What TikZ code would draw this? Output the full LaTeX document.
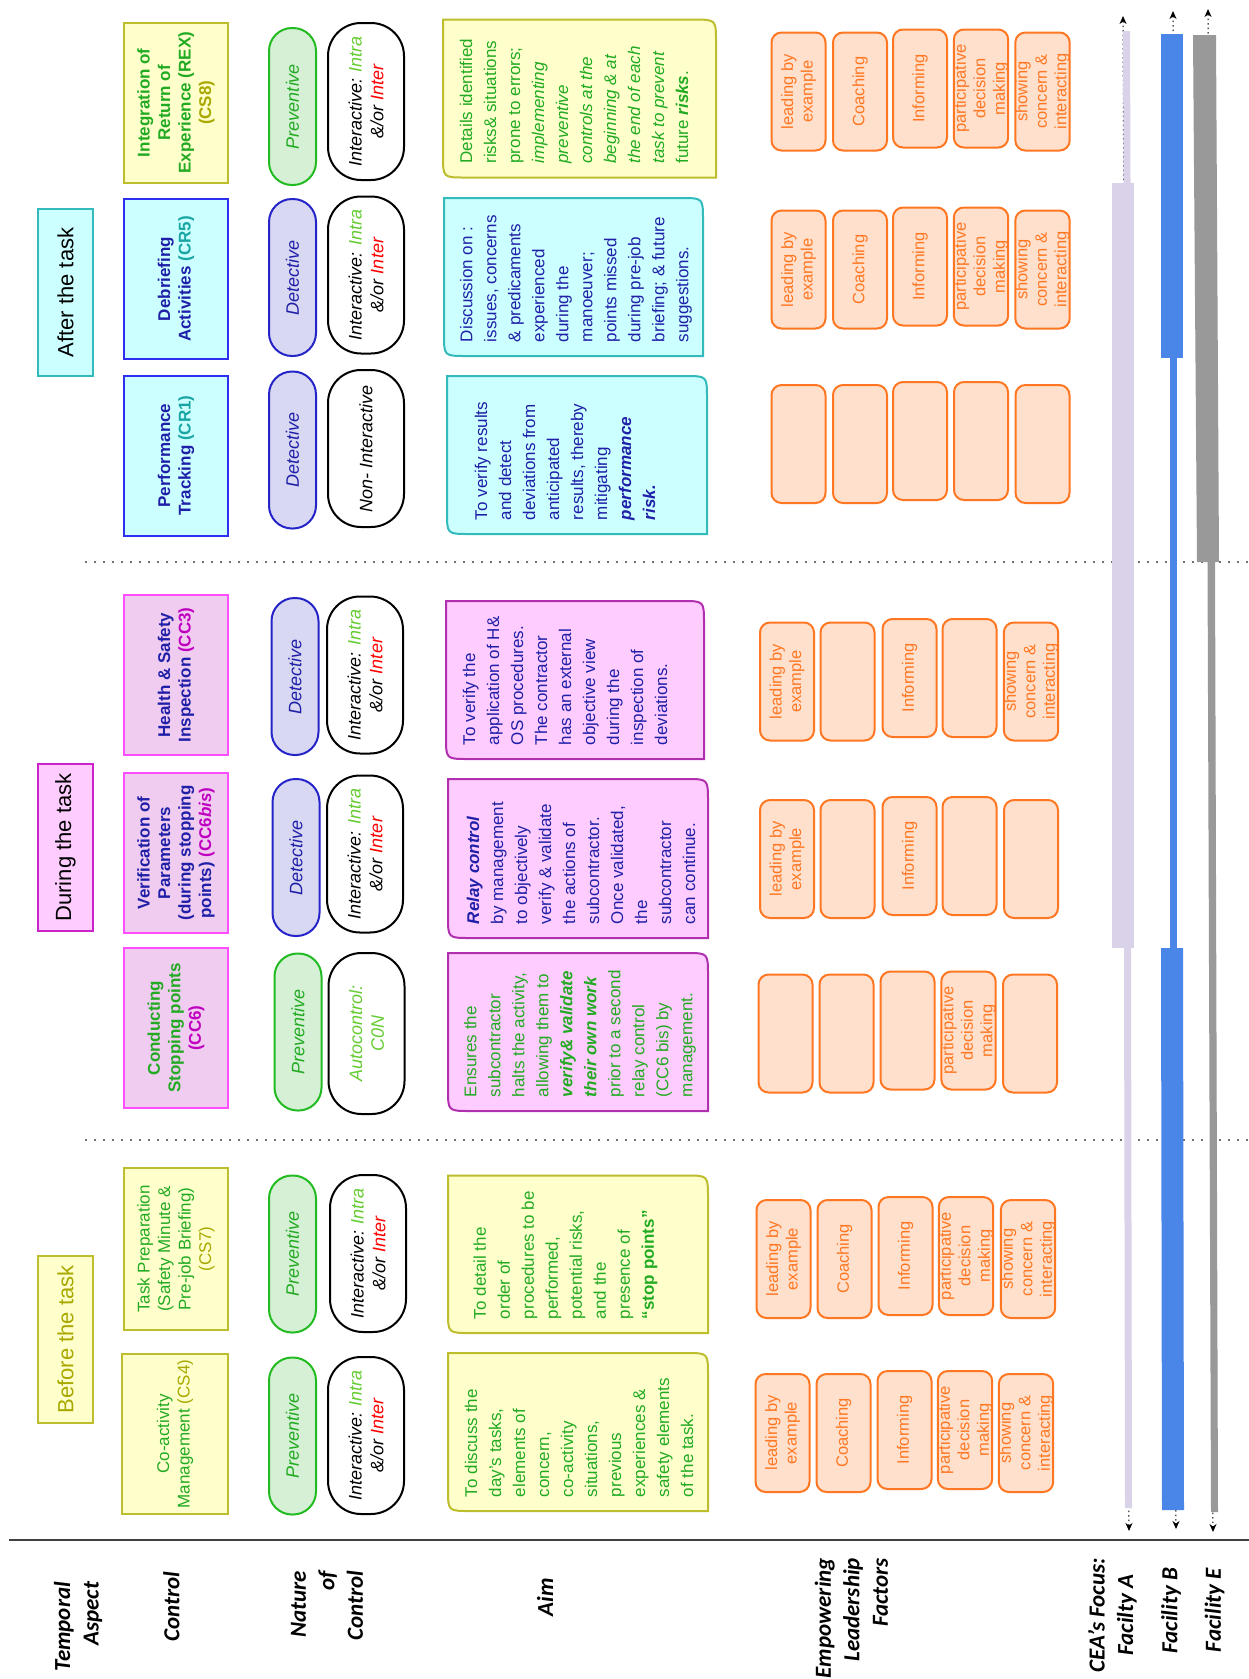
\documentclass[tikz,border=0pt]{standalone}
\usepackage{fontspec}
\setmainfont{Liberation Sans}
\newfontfamily\labfont{Carlito}
\usetikzlibrary{arrows.meta}

\definecolor{olv}{HTML}{A8A800}
\definecolor{olvB}{HTML}{BDBD2E}
\definecolor{ylw}{HTML}{FFFFCC}
\definecolor{grn}{HTML}{22AA22}
\definecolor{cIntra}{HTML}{66CC33}
\definecolor{cRed}{HTML}{FF0000}
\definecolor{cNavy}{HTML}{1F1FA8}
\definecolor{cTeal}{HTML}{1AA5A5}
\definecolor{cCyan}{HTML}{CCFFFF}
\definecolor{cCyanB}{HTML}{33BBBB}
\definecolor{cBlueB}{HTML}{2E2EF0}
\definecolor{cMag}{HTML}{C000C0}
\definecolor{cPinkF}{HTML}{FFCCFF}
\definecolor{cPinkB}{HTML}{CC22CC}
\definecolor{cLilacF}{HTML}{F0CCF0}
\definecolor{cLilacB}{HTML}{FF4DFF}
\definecolor{cPurB}{HTML}{B030B0}
\definecolor{cPrevF}{HTML}{D5F0D5}
\definecolor{cPrevB}{HTML}{22BB22}
\definecolor{cDetF}{HTML}{D8D8F2}
\definecolor{cDetB}{HTML}{2424C8}
\definecolor{cOrF}{HTML}{FFE0CC}
\definecolor{cOr}{HTML}{FF7722}
\definecolor{cBarA}{HTML}{D9D2E9}
\definecolor{cBarB}{HTML}{4A86E8}
\definecolor{cBarE}{HTML}{999999}
\definecolor{cDot}{HTML}{707070}
\definecolor{cLine}{HTML}{404040}

\tikzset{
  every node/.style={rotate=90, inner sep=0pt, outer sep=0pt},
  hdr/.style={draw, line width=2pt, minimum height=55pt, minimum width=167pt,
    font=\fontsize{22}{26}\selectfont},
  ctrl/.style={draw, line width=2pt, minimum height=104pt, minimum width=160pt,
    align=center, font=\fontsize{17}{20.5}\selectfont\bfseries},
  ctrlR/.style={ctrl, font=\fontsize{17}{20.5}\selectfont},
  nat/.style={draw, line width=2pt, rounded corners=23pt, minimum height=47pt,
    minimum width=157pt, font=\fontsize{18}{21}\selectfont\itshape},
  prev/.style={nat, fill=cPrevF, draw=cPrevB, text=grn},
  det/.style={nat, fill=cDetF, draw=cDetB, text=cNavy},
  typ/.style={draw=black, fill=white, line width=2pt, rounded corners=33pt,
    minimum height=76pt, minimum width=157pt, align=center,
    font=\fontsize{18}{21.7}\selectfont\itshape},
  aimtxt/.style={anchor=west, align=left, font=\fontsize{17}{24}\selectfont},
  lead/.style={draw=cOr, fill=cOrF, text=cOr, line width=2pt, rounded corners=10pt,
    minimum height=54pt, minimum width=118pt, align=center,
    font=\fontsize{16.5}{19.5}\selectfont},
  lab/.style={align=right, font=\labfont\fontsize{23}{28.5}\selectfont\bfseries\itshape},
  sepdot/.style={draw=cDot, line width=1.6pt, dash pattern=on 1.6pt off 7.4pt},
  facarr/.style={draw=black, line width=1pt, dash pattern=on 1.5pt off 3pt,
    {Stealth[length=8pt,width=7pt,inset=2.5pt]}-{Stealth[length=8pt,width=7pt,inset=2.5pt]}}
}

\newcommand{\aimframe}[6]{%
  \filldraw[fill=#5, draw=#6, line width=2pt] (#1,#2) -- ({#3-22},#2)
    .. controls (#3,#2) .. (#3,{#2+22}) -- (#3,#4) -- ({#1+22},#4)
    .. controls (#1,#4) .. (#1,{#4-22}) -- cycle;}
\newcommand{\lbx}[4]{\node[lead] (#1) at (#2,#3) {#4};}

\begin{document}
\begin{tikzpicture}[x=1pt,y=-1pt]
\fill[white] (0,0) rectangle (1249,1679);
\useasboundingbox (0,0) rectangle (1249,1679);

% separators
\draw[sepdot] (85,562) -- (1249,562);
\draw[sepdot] (85,1140) -- (1249,1140);
\draw[line width=2pt, draw=cLine] (9,1540) -- (1249,1540);

% temporal headers
\node[hdr, fill=cCyan, draw=cCyanB] (hA) at (65.5,292.5) {After the task};
\node[hdr, fill=cPinkF, draw=cPinkB] (hD) at (65.5,847.5) {During the task};
\node[hdr, fill=ylw, draw=olvB, text=olv] (hB) at (65.5,1339.5) {Before the task};

% controls
\node[ctrl, fill=ylw, draw=olvB, text=grn] (cCS8) at (176,102.75) {Integration of\\Return of\\Experience (REX)\\\textcolor{olv}{(CS8)}};
\node[ctrl, fill=cCyan, draw=cBlueB, text=cNavy] (cCR5) at (176,279) {Debriefing\\Activities \textcolor{cTeal}{(CR5)}};
\node[ctrl, fill=cCyan, draw=cBlueB, text=cNavy] (cCR1) at (176,455.5) {Performance\\Tracking \textcolor{cTeal}{(CR1)}};
\node[ctrl, fill=cLilacF, draw=cLilacB, text=cNavy] (cCC3) at (176,675) {Health \& Safety\\Inspection \textcolor{cMag}{(CC3)}};
\node[ctrl, fill=cLilacF, draw=cLilacB, text=cNavy] (cCC6b) at (176,853) {Verification of\\Parameters\\(during stopping\\points) \textcolor{cMag}{(CC6\textit{bis})}};
\node[ctrl, fill=cLilacF, draw=cLilacB, text=grn] (cCC6) at (176,1028) {Conducting\\Stopping points\\\textcolor{cMag}{(CC6)}};
\node[ctrlR, fill=ylw, draw=olvB, text=grn, minimum width=161.5pt] (cCS7) at (176,1249) {Task Preparation\\(Safety Minute \&\\Pre-job Briefing)\\\textcolor{olv}{(CS7)}};
\node[ctrlR, fill=ylw, draw=olvB, text=grn, minimum height=106pt] (cCS4) at (175,1434) {Co-activity\\Management \textcolor{olv}{(CS4)}};

% nature of control
\node[prev] (nCS8) at (292.5,106.5) {Preventive};
\node[det] (nCR5) at (292.5,277.5) {Detective};
\node[det] (nCR1) at (292.5,450) {Detective};
\node[det] (nCC3) at (295,676.5) {Detective};
\node[det] (nCC6b) at (296,857.5) {Detective};
\node[prev] (nCC6) at (298,1032) {Preventive};
\node[prev] (nCS7) at (292.5,1254) {Preventive};
\node[prev] (nCS4) at (292.5,1436) {Preventive};

% type of control
\node[typ] (tCS8) at (366,101.5) {Interactive: \textcolor{cIntra}{Intra}\\\&/or \textcolor{cRed}{Inter}};
\node[typ] (tCR5) at (366,275) {Interactive: \textcolor{cIntra}{Intra}\\\&/or \textcolor{cRed}{Inter}};
\node[typ] (tCR1) at (366,448.5) {Non- Interactive};
\node[typ] (tCC3) at (365,675) {Interactive: \textcolor{cIntra}{Intra}\\\&/or \textcolor{cRed}{Inter}};
\node[typ] (tCC6b) at (365,854) {Interactive: \textcolor{cIntra}{Intra}\\\&/or \textcolor{cRed}{Inter}};
\node[typ, text=cIntra, minimum width=161pt] (tCC6) at (366.5,1033.5) {Autocontrol:\\C0N};
\node[typ] (tCS7) at (368,1253.5) {Interactive: \textcolor{cIntra}{Intra}\\\&/or \textcolor{cRed}{Inter}};
\node[typ] (tCS4) at (366,1435.5) {Interactive: \textcolor{cIntra}{Intra}\\\&/or \textcolor{cRed}{Inter}};

% aims
\aimframe{443}{19.6}{716}{177.5}{ylw}{olvB}
\node[aimtxt, text=grn] (aCS8) at (574,163.5) {Details identified\\risks\& situations\\prone to errors;\\\textit{implementing}\\\textit{preventive}\\\textit{controls at the}\\\textit{beginning \& at}\\\textit{the end of each}\\\textit{task to prevent}\\future \textbf{\textit{risks}}.};
\aimframe{444}{198}{703}{356}{cCyan}{cCyanB}
\node[aimtxt, text=cNavy] (aCR5) at (576,342) {Discussion on :\\issues, concerns\\\& predicaments\\experienced\\during the\\manoeuver;\\points missed\\during pre-job\\briefing; \& future\\suggestions.};
\aimframe{447}{376}{707}{534}{cCyan}{cCyanB}
\node[aimtxt, text=cNavy] (aCR1) at (565,520) {To verify results\\and detect\\deviations from\\anticipated\\results, thereby\\mitigating\\\textbf{\textit{performance}}\\\textbf{\textit{risk.}}};
\aimframe{446}{601}{704}{759}{cPinkF}{cPurB}
\node[aimtxt, text=cNavy] (aCC3) at (565,745) {To verify the\\application of H\&\\OS procedures.\\The contractor\\has an external\\objective view\\during the\\inspection of\\deviations.};
\aimframe{448}{779}{708}{938}{cPinkF}{cPurB}
\node[aimtxt, text=cNavy] (aCC6b) at (581,924) {\textbf{\textit{Relay control}}\\by management\\to objectively\\verify \& validate\\the actions of\\subcontractor.\\Once validated,\\the\\subcontractor\\can continue.};
\aimframe{448}{953}{708}{1111}{cPinkF}{cPurB}
\node[aimtxt, text=grn] (aCC6) at (580,1097) {Ensures the\\subcontractor\\halts the activity,\\allowing them to\\\textbf{\textit{verify\& validate}}\\\textbf{\textit{their own work}}\\prior to a second\\relay control\\(CC6 bis) by\\management.};
\aimframe{448}{1175.5}{708}{1333}{ylw}{olvB}
\node[aimtxt, text=grn] (aCS7) at (565.5,1319) {To detail the\\order of\\procedures to be\\performed,\\potential risks,\\and the\\presence of\\\textbf{“stop points”}};
\aimframe{448}{1353}{708}{1511}{ylw}{olvB}
\node[aimtxt, text=grn] (aCS4) at (579,1497) {To discuss the\\day’s tasks,\\elements of\\concern,\\co-activity\\situations,\\previous\\experiences \&\\safety elements\\of the task.};

% leadership factors - after
\lbx{l81}{798.5}{91.5}{leading by\\example}
\lbx{l82}{860}{91.5}{Coaching}
\lbx{l83}{920}{88.5}{Informing}
\lbx{l84}{981}{88.5}{participative\\decision\\making}
\lbx{l85}{1042.5}{91.5}{showing\\concern \&\\interacting}
\lbx{l51}{798.5}{269.5}{leading by\\example}
\lbx{l52}{860}{269.5}{Coaching}
\lbx{l53}{920}{266.5}{Informing}
\lbx{l54}{981}{266.5}{participative\\decision\\making}
\lbx{l55}{1042.5}{269.5}{showing\\concern \&\\interacting}
\lbx{l11}{798.5}{444}{}
\lbx{l12}{860}{444}{}
\lbx{l13}{920}{441}{}
\lbx{l14}{981}{441}{}
\lbx{l15}{1042.5}{444}{}
% during
\lbx{l31}{787}{681.5}{leading by\\example}
\lbx{l32}{847.5}{681.5}{}
\lbx{l33}{909.5}{678}{Informing}
\lbx{l34}{969.5}{678}{}
\lbx{l35}{1031}{681.5}{showing\\concern \&\\interacting}
\lbx{l61}{787}{859}{leading by\\example}
\lbx{l62}{847.5}{859}{}
\lbx{l63}{909.5}{856}{Informing}
\lbx{l64}{969.5}{856}{}
\lbx{l65}{1031}{859}{}
\lbx{l71}{785.5}{1033.5}{}
\lbx{l72}{846.5}{1033.5}{}
\lbx{l73}{907.5}{1030.5}{}
\lbx{l74}{968.5}{1030.5}{participative\\decision\\making}
\lbx{l75}{1030}{1033.5}{}
% before
\lbx{l91}{783.5}{1259}{leading by\\example}
\lbx{l92}{844.5}{1259}{Coaching}
\lbx{l93}{905.5}{1256}{Informing}
\lbx{l94}{966}{1256}{participative\\decision\\making}
\lbx{l95}{1028}{1259}{showing\\concern \&\\interacting}
\lbx{l41}{782.5}{1433}{leading by\\example}
\lbx{l42}{843.5}{1433}{Coaching}
\lbx{l43}{904.5}{1430}{Informing}
\lbx{l44}{965}{1430}{participative\\decision\\making}
\lbx{l45}{1026}{1433}{showing\\concern \&\\interacting}

% CEA focus arrows
\coordinate (Atop) at (1123,16);
\coordinate (Abot) at (1129,1531);
\coordinate (Btop) at (1173,11);
\coordinate (Bbot) at (1176,1529);
\coordinate (Etop) at (1208,9);
\coordinate (Ebot) at (1213,1532);
\draw[facarr] (Atop) -- (Abot);
\draw[facarr] (Btop) -- (Bbot);
\draw[facarr] (Etop) -- (Ebot);

% bars
\fill[cBarA] (1123,31) -- (1130,31) -- (1130.5,183) -- (1123.5,183) -- cycle;
\fill[cBarA] (1112,183) rectangle (1134,948);
\fill[cBarA] (1124,948) -- (1131,948) -- (1132,1508) -- (1125,1508) -- cycle;
\fill[cBarB] (1161,34) rectangle (1183,358);
\fill[cBarB] (1169.5,358) rectangle (1176.5,948);
\fill[cBarB] (1161,948) -- (1183,948) -- (1184,1510) -- (1162,1510) -- cycle;
\fill[cBarE] (1193,35) -- (1216,35) -- (1219,562) -- (1197,562) -- cycle;
\fill[cBarE] (1207.5,562) -- (1215,562) -- (1218,1512) -- (1211,1512) -- cycle;

% row labels
\node[lab, anchor=east] (labT) at (78,1582) {Temporal\\Aspect};
\node[lab, anchor=east] (labC) at (171.5,1572) {Control};
\node[lab, anchor=east] (labN) at (327,1571) {Nature\\of\\Control};
\node[lab, anchor=east] (labA) at (545,1578) {Aim};
\node[lab, anchor=east] (labE) at (851.5,1558) {Empowering\\Leadership\\Factors};
\node[lab, align=center] (labF) at (1112.5,1615) {CEA’s Focus:\\Facilty A};
\node[lab, anchor=east] (labFB) at (1171,1568) {Facility B};
\node[lab, anchor=east] (labFE) at (1214.5,1568) {Facility E};
\end{tikzpicture}
\end{document}
